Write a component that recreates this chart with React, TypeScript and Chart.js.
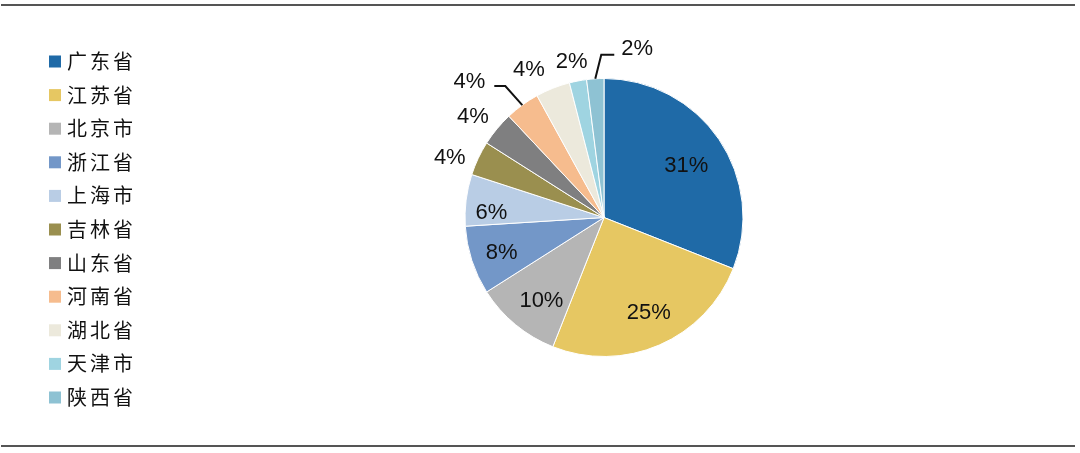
import React, { useEffect, useRef } from "react";
import { Chart, registerables } from "chart.js";

Chart.register(...registerables);

const provinces = ["广东省", "江苏省", "北京市", "浙江省", "上海市", "吉林省", "山东省", "河南省", "湖北省", "天津市", "陕西省"];
const shares = [31, 25, 10, 8, 6, 4, 4, 4, 4, 2, 2];
const sliceColors = ["#1f6aa7", "#e6c762", "#b5b5b5", "#7397c8", "#b9cde5", "#9a8f4f", "#7f7f80", "#f6bc8e", "#ece9dc", "#9fd4e1", "#8ec2d3"];
const shareLabels = ["31%", "25%", "10%", "8%", "6%", "4%", "4%", "4%", "4%", "2%", "2%"];

// label placement: radial factor relative to pie radius, angle nudge (deg), optional leader
type Place = { f: number; da: number; leader?: "left" | "right" };
const placements: Place[] = [
  { f: 0.7, da: 2 }, { f: 0.76, da: -1.7 }, { f: 0.75, da: -2.7 }, { f: 0.78, da: -1.3 }, { f: 0.81, da: -4.7 },
  { f: 1.19, da: -4 }, { f: 1.19, da: -2 }, { f: 1.0, da: 0, leader: "left" }, { f: 1.19, da: -5.4 }, { f: 1.14, da: -1 }, { f: 1.0, da: 0, leader: "right" },
];

const overlayPlugin = {
  id: "overlay",
  beforeDraw(chart: any) {
    const ctx = chart.ctx;
    ctx.save();
    ctx.fillStyle = "#ffffff";
    ctx.fillRect(0, 0, chart.width, chart.height);
    ctx.fillStyle = "#555555";
    ctx.fillRect(1, 4, 1074, 2);
    ctx.fillRect(1, 445, 1074, 2);
    // legend
    const legendX = 49;
    const firstY = 61.5;
    const pitch = 33.6;
    ctx.textBaseline = "middle";
    ctx.textAlign = "left";
    ctx.font = '20px "Noto Sans CJK SC"';
    provinces.forEach((p, i) => {
      const y = firstY + i * pitch;
      ctx.fillStyle = sliceColors[i];
      ctx.fillRect(legendX, y - 6, 12, 12);
      ctx.fillStyle = "#111111";
      Array.from(p).forEach((ch, k) => {
        ctx.fillText(ch, 67 + k * 23, y);
      });
    });
    ctx.restore();
  },
  afterDatasetsDraw(chart: any) {
    const ctx = chart.ctx;
    const meta = chart.getDatasetMeta(0);
    ctx.save();
    ctx.font = '22px "Liberation Sans", Arial, sans-serif';
    ctx.fillStyle = "#111111";
    ctx.strokeStyle = "#111111";
    ctx.lineWidth = 2;
    ctx.textAlign = "center";
    ctx.textBaseline = "middle";
    meta.data.forEach((arc: any, i: number) => {
      const { x, y, startAngle, endAngle, outerRadius } = arc.getProps(["x", "y", "startAngle", "endAngle", "outerRadius"], true);
      const pl = placements[i];
      const mid = (startAngle + endAngle) / 2 + (pl.da * Math.PI) / 180;
      const ex = x + Math.cos(mid) * outerRadius;
      const ey = y + Math.sin(mid) * outerRadius;
      if (pl.leader === "left") {
        const bx = ex - 17;
        const by = ey - 19;
        ctx.beginPath();
        ctx.moveTo(ex, ey);
        ctx.lineTo(bx, by);
        ctx.lineTo(bx - 11, by);
        ctx.stroke();
        ctx.fillText(shareLabels[i], bx - 36, by - 4);
      } else if (pl.leader === "right") {
        const bx = ex + 6;
        const by = ey - 24;
        ctx.beginPath();
        ctx.moveTo(ex, ey);
        ctx.lineTo(bx, by);
        ctx.lineTo(bx + 13, by);
        ctx.stroke();
        ctx.fillText(shareLabels[i], bx + 36, by - 6);
      } else {
        const lx = x + Math.cos(mid) * outerRadius * pl.f;
        const ly = y + Math.sin(mid) * outerRadius * pl.f;
        ctx.fillText(shareLabels[i], lx, ly);
      }
    });
    ctx.restore();
  },
};

export default function App() {
  const ref = useRef<HTMLCanvasElement | null>(null);
  useEffect(() => {
    if (!ref.current) return;
    const chart = new Chart(ref.current, {
      type: "pie",
      data: {
        labels: provinces,
        datasets: [
          {
            data: shares,
            backgroundColor: sliceColors,
            borderColor: "#ffffff",
            borderWidth: 1,
          },
        ],
      },
      options: {
        animation: false,
        responsive: false,
        layout: { padding: { left: 464, right: 336, top: 78, bottom: 96 } },
        plugins: { legend: { display: false }, tooltip: { enabled: false } },
      },
      plugins: [overlayPlugin],
    });
    return () => chart.destroy();
  }, []);
  return (
    <div style={{ position: "fixed", left: 0, top: 0, width: 1080, height: 453, background: "#fff" }}>
      <canvas ref={ref} width={1080} height={453} style={{ display: "block", width: 1080, height: 453 }} />
    </div>
  );
}
